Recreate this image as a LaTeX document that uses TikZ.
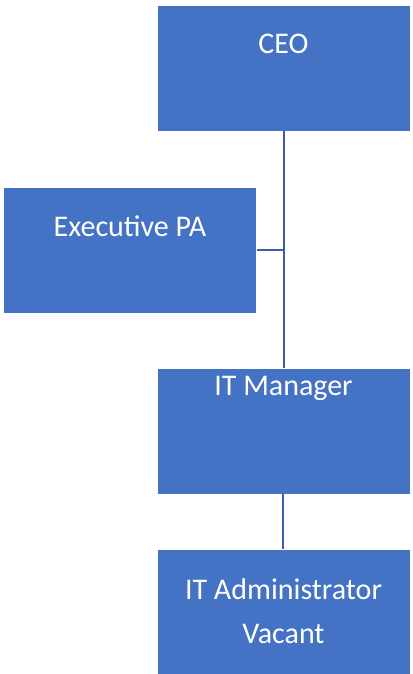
\documentclass[tikz,border=0pt]{standalone}
\usepackage{fontspec}
\setmainfont{Carlito}
\usetikzlibrary{calc}

\definecolor{boxblue}{HTML}{4472C4}
\definecolor{lineblue}{HTML}{3A5FA8}

\begin{document}
\begin{tikzpicture}[x=1pt,y=-1pt,
	orgbox/.style={rectangle,fill=boxblue,draw=white,line width=0.6pt,
	               minimum width=253pt,minimum height=126pt,inner sep=0pt},
	orgtext/.style={anchor=base,text=white,font=\fontsize{30}{44}\selectfont,
	                align=center,inner sep=0pt},
	orgline/.style={draw=lineblue,line width=2pt}]
	\useasboundingbox (0,0) rectangle (412,674);

	% boxes
	\node[orgbox] (ceo) at (283.5,68) {};
	\node[orgbox] (pa) at (130,250) {};
	\node[orgbox] (itm) at (283.5,431) {};
	\node[orgbox] (ita) at (283.5,612) {};

	% texts (base of the last line)
	\node[orgtext] (ceo-t) at (283.5,54) {CEO};
	\node[orgtext] (pa-t) at (130,236) {Executive PA};
	\node[orgtext] (itm-t) at (283.5,395) {IT Manager};
	\node[orgtext] (ita-t) at (283.5,643) {IT Administrator\\Vacant};

	% connectors
	\coordinate (joint) at (284,250);
	\path ([xshift=0.5pt]ceo.south) edge[orgline] ([xshift=0.5pt]itm.north);
	\path (pa.east) edge[orgline] (joint);
	\path ([xshift=-0.5pt]itm.south) edge[orgline] ([xshift=-0.5pt]ita.north);
\end{tikzpicture}
\end{document}
